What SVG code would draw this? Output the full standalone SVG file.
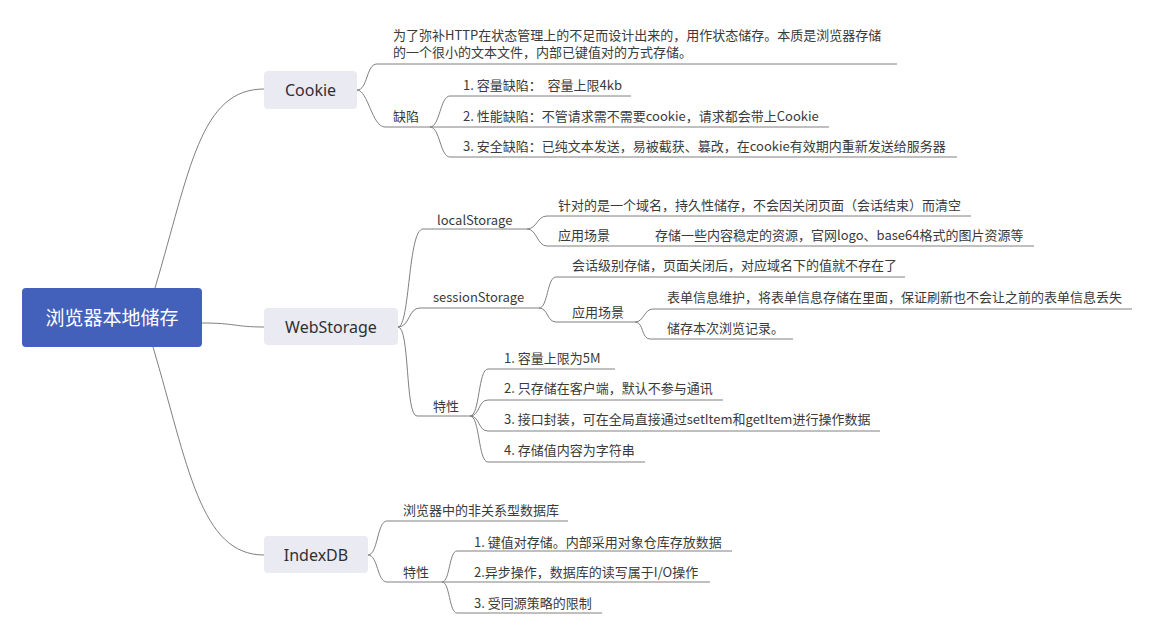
<svg xmlns="http://www.w3.org/2000/svg" width="1152" height="635" viewBox="0 0 1152 635">
<style>
.bg{fill:#ffffff}
.root{fill:#4361bb}
.main{fill:#eaeaf3}
.rt{font-family:"Noto Sans CJK SC","Noto Sans",sans-serif;font-size:19px;fill:#ffffff;text-anchor:middle}
.mt{font-family:"Noto Sans","Noto Sans CJK SC",sans-serif;font-size:16px;fill:#303030;text-anchor:middle}
.t{font-family:"Noto Sans CJK SC","Noto Sans",sans-serif;font-size:13px;fill:#3a3a3a}
.c{fill:none;stroke:#808080;stroke-width:1}
</style>
<rect class="bg" x="0" y="0" width="1152" height="635"/>
<g id="connectors">
<path class="c" d="M155,288 C190,170 200,89 264,89"/>
<path class="c" d="M202,323 C235,323 235,327 264,327"/>
<path class="c" d="M153,347 C188,465 200,555 264,555"/>
<path class="c" d="M357,90 C368,90 366,64 377,64 H897"/>
<path class="c" d="M357,90 C368,90 372,127 385,127 H430"/>
<path class="c" d="M430,127 C440,127 440,96 450,96 H631"/>
<path class="c" d="M430,127 H829"/>
<path class="c" d="M430,127 C440,127 440,157 450,157 H957"/>
<path class="c" d="M398,327 C410,327 408,229 423,229 H527"/>
<path class="c" d="M398,327 C410,327 408,308 420,308 H539"/>
<path class="c" d="M398,327 C410,327 405,416 417,416 H470"/>
<path class="c" d="M527,229 C537,229 537,216 547,216 H971"/>
<path class="c" d="M527,229 C537,229 537,246 547,246 H1034"/>
<path class="c" d="M539,308 C548,308 547,277 556,277 H905"/>
<path class="c" d="M539,308 C548,308 547,322 556,322 H635"/>
<path class="c" d="M635,322 C644,322 644,309 653,309 H1132"/>
<path class="c" d="M635,322 C644,322 641,339 650,339 H793"/>
<path class="c" d="M470,416 C480,416 478,369 488,369 H615"/>
<path class="c" d="M470,416 C480,416 478,400 488,400 H723"/>
<path class="c" d="M470,416 C480,416 478,431 488,431 H880"/>
<path class="c" d="M470,416 C480,416 478,462 488,462 H645"/>
<path class="c" d="M368,555 C378,555 377,521 387,521 H568"/>
<path class="c" d="M368,555 C378,555 377,582 387,582 H442"/>
<path class="c" d="M442,582 C450,582 449,551 457,551 H732"/>
<path class="c" d="M442,582 H710"/>
<path class="c" d="M442,582 C450,582 449,613 457,613 H602"/>
</g>
<g id="root">
<rect class="root" x="22" y="288" width="180" height="59" rx="4"/>
<text class="rt" x="112" y="325">浏览器本地储存</text>
</g>
<g id="cookie">
<rect class="main" x="264" y="71" width="93" height="38" rx="4"/>
<text class="mt" x="310.5" y="96">Cookie</text>
</g>
<g id="cookie-desc">
<text class="t" x="393" y="40">为了弥补HTTP在状态管理上的不足而设计出来的，用作状态储存。本质是浏览器存储</text>
<text class="t" x="393" y="57">的一个很小的文本文件，内部已键值对的方式存储。</text>
</g>
<g id="cookie-defect"><text class="t" x="393" y="121">缺陷</text></g>
<g id="cookie-d1"><text class="t" x="463" y="90" xml:space="preserve">1. 容量缺陷：  容量上限4kb</text></g>
<g id="cookie-d2"><text class="t" x="463" y="121">2. 性能缺陷：不管请求需不需要cookie，请求都会带上Cookie</text></g>
<g id="cookie-d3"><text class="t" x="463" y="151">3. 安全缺陷：已纯文本发送，易被截获、篡改，在cookie有效期内重新发送给服务器</text></g>
<g id="webstorage">
<rect class="main" x="264" y="308" width="134" height="37" rx="4"/>
<text class="mt" x="331" y="333">WebStorage</text>
</g>
<g id="localstorage"><text class="t" x="437" y="225">localStorage</text></g>
<g id="local-1"><text class="t" x="558" y="210">针对的是一个域名，持久性储存，不会因关闭页面（会话结束）而清空</text></g>
<g id="local-scene"><text class="t" x="558" y="240">应用场景</text></g>
<g id="local-scene-1"><text class="t" x="655" y="240">存储一些内容稳定的资源，官网logo、base64格式的图片资源等</text></g>
<g id="sessionstorage"><text class="t" x="433" y="302">sessionStorage</text></g>
<g id="session-1"><text class="t" x="572" y="270">会话级别存储，页面关闭后，对应域名下的值就不存在了</text></g>
<g id="session-scene"><text class="t" x="572" y="317">应用场景</text></g>
<g id="session-scene-1"><text class="t" x="667" y="302">表单信息维护，将表单信息存储在里面，保证刷新也不会让之前的表单信息丢失</text></g>
<g id="session-scene-2"><text class="t" x="667" y="333">储存本次浏览记录。</text></g>
<g id="ws-feature"><text class="t" x="433" y="411">特性</text></g>
<g id="ws-f1"><text class="t" x="504" y="363">1. 容量上限为5M</text></g>
<g id="ws-f2"><text class="t" x="504" y="393">2. 只存储在客户端，默认不参与通讯</text></g>
<g id="ws-f3"><text class="t" x="504" y="424">3. 接口封装，可在全局直接通过setItem和getItem进行操作数据</text></g>
<g id="ws-f4"><text class="t" x="504" y="455">4. 存储值内容为字符串</text></g>
<g id="indexdb">
<rect class="main" x="264" y="536" width="104" height="37" rx="4"/>
<text class="mt" x="316" y="561">IndexDB</text>
</g>
<g id="idb-1"><text class="t" x="403" y="515">浏览器中的非关系型数据库</text></g>
<g id="idb-feature"><text class="t" x="403" y="577">特性</text></g>
<g id="idb-f1"><text class="t" x="474" y="547">1. 键值对存储。内部采用对象仓库存放数据</text></g>
<g id="idb-f2"><text class="t" x="474" y="577">2.异步操作，数据库的读写属于I/O操作</text></g>
<g id="idb-f3"><text class="t" x="474" y="608">3. 受同源策略的限制</text></g>
</svg>
